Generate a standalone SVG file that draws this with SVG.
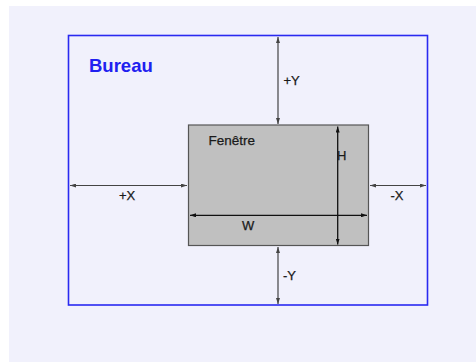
<svg xmlns="http://www.w3.org/2000/svg" width="476" height="362" viewBox="0 0 476 362">
<defs>
<style>
.lbl{font-family:"Liberation Sans",Arial,sans-serif;font-size:13px;fill:#1a1a1a;stroke:#1a1a1a;stroke-width:0.25}
.title{font-family:"Liberation Sans",Arial,sans-serif;font-size:18.5px;font-weight:bold;fill:#2020f0}
.conn{stroke:#444;stroke-width:1.2;fill:none;marker-start:url(#ah);marker-end:url(#ah)}
.dim{stroke:#111;stroke-width:1.3;fill:none;marker-start:url(#ahd);marker-end:url(#ahd)}
</style>
<marker id="ah" viewBox="0 0 6 4" refX="6" refY="2" markerWidth="6" markerHeight="4" markerUnits="userSpaceOnUse" orient="auto-start-reverse">
<path d="M0,0 L6,2 L0,4 Z" fill="#444"/>
</marker>
<marker id="ahd" viewBox="0 0 6 4" refX="6" refY="2" markerWidth="6" markerHeight="4" markerUnits="userSpaceOnUse" orient="auto-start-reverse">
<path d="M0,0 L6,2 L0,4 Z" fill="#111"/>
</marker>
</defs>
<rect x="9" y="6" width="467" height="356" fill="#f1f1fc"/>
<g id="bureau">
<rect x="68.5" y="35.5" width="359" height="269.5" fill="#f1f1fc" stroke="#2a2af0" stroke-width="1.6"/>
<text class="title" x="89" y="72">Bureau</text>
</g>
<g id="fenetre">
<rect x="188.5" y="125" width="180" height="120.5" fill="#c0c0c0" stroke="#555" stroke-width="1.2"/>
<text class="lbl" x="208.5" y="145" style="font-size:13.5px">Fenêtre</text>
</g>
<g id="connectors">
<line class="conn" x1="278" y1="37" x2="278" y2="124"/>
<line class="conn" x1="278" y1="247" x2="278" y2="304"/>
<line class="conn" x1="70" y1="185.5" x2="187" y2="185.5"/>
<line class="conn" x1="370" y1="185.5" x2="426" y2="185.5"/>
<line class="dim" x1="190" y1="215.3" x2="367" y2="215.3"/>
<line class="dim" x1="337.7" y1="126.5" x2="337.7" y2="244.5"/>
</g>
<g id="labels">
<text class="lbl" x="283.5" y="85">+Y</text>
<text class="lbl" x="283" y="279.5">-Y</text>
<text class="lbl" x="119" y="200">+X</text>
<text class="lbl" x="390.5" y="200">-X</text>
<text class="lbl" x="242" y="230">W</text>
<text class="lbl" x="337" y="160">H</text>
</g>
</svg>
